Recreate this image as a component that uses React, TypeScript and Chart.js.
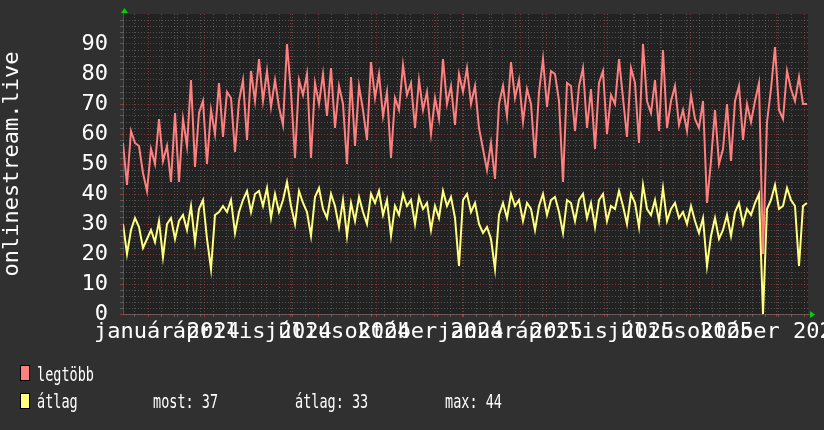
import React, { useEffect, useRef } from "react";
import { Chart, registerables } from "chart.js";

Chart.register(...registerables);

// ---- data (one sample every ~4.26 days, graph range starts 2023-12-05) ----
const LEGTOBB: number[] = [
  57, 43, 61, 57, 56, 47, 41, 55, 50, 65,
  51, 56, 44, 67, 44, 65, 56, 78, 49, 67,
  71, 50, 68, 60, 77, 59, 74, 72, 54, 71,
  78, 58, 81, 71, 85, 71, 81, 69, 78, 69,
  63, 90, 74, 52, 78, 73, 80, 52, 77, 70,
  80, 66, 82, 62, 76, 70, 50, 79, 56, 76,
  68, 58, 84, 72, 80, 66, 74, 52, 72, 68,
  83, 73, 77, 62, 78, 68, 74, 60, 72, 65,
  85, 70, 76, 63, 80, 74, 82, 70, 76, 62,
  55, 48, 57, 45, 70, 76, 66, 84, 72, 78,
  64, 75, 70, 52, 74, 85, 69, 81, 80, 71,
  44, 77, 76, 61, 76, 82, 62, 75, 55, 77,
  81, 60, 73, 70, 85, 72, 59, 82, 77, 57,
  90, 71, 67, 78, 61, 88, 62, 71, 76, 63,
  68, 61, 73, 65, 62, 71, 37, 51, 68, 50,
  55, 70, 51, 71, 76, 58, 70, 64, 71, 77,
  20, 64, 75, 89, 68, 65, 81, 75, 71, 79,
  70, 70,
];

const ATLAG: number[] = [
  30, 20, 28, 32, 29, 22, 25, 28, 24, 31,
  19, 30, 32, 25, 31, 33, 28, 36, 24, 35,
  38, 25, 15, 33, 34, 36, 34, 38, 27, 34,
  38, 41, 34, 40, 41, 36, 42, 32, 40, 34,
  38, 44, 36, 30, 41, 37, 34, 26, 39, 42,
  35, 32, 40, 36, 29, 38, 26, 37, 31, 39,
  34, 30, 40, 37, 41, 33, 38, 26, 36, 33,
  40, 36, 38, 30, 39, 35, 37, 28, 36, 32,
  41, 36, 39, 32, 16, 38, 40, 34, 37, 30,
  27, 29, 25, 15, 33, 37, 32, 40, 36, 38,
  31, 37, 35, 28, 36, 40, 33, 38, 39, 34,
  27, 38, 37, 31, 38, 40, 32, 37, 29, 38,
  40, 31, 36, 35, 41, 36, 30, 40, 37, 29,
  43, 35, 33, 38, 31, 42, 31, 35, 37, 32,
  34, 30, 36, 31, 27, 32, 16, 26, 32, 25,
  28, 33, 26, 34, 37, 30, 35, 33, 37, 40,
  0, 35, 38, 43, 35, 36, 42, 38, 36, 16,
  36, 37,
];

const SAMPLE_DAYS = (4 * 730) / 685;
const RANGE_START = Date.UTC(2023, 11, 5, 8);
const RANGE_DAYS = 730;
const MS_DAY = 86400000;
const LABEL_SHIFT_DAYS = 20;

const MONTHS_HU = [
  "január", "február", "március", "április", "május", "június",
  "július", "augusztus", "szeptember", "október", "november", "december",
];
const X_LABEL_MONTHS: [number, number][] = [
  [2024, 0], [2024, 3], [2024, 6], [2024, 9],
  [2025, 0], [2025, 3], [2025, 6], [2025, 9],
];

const Y_MIN = 0;
const Y_MAX = 100;
const Y_MINOR_STEP = 2;
const Y_LABELS = [0, 10, 20, 30, 40, 50, 60, 70, 80, 90];

const SERIES_NAMES = ["legtöbb", "átlag"];
const SERIES_COLORS = ["#ff8080", "#ffff80"];
const STAT_NAMES = ["most:", "átlag:", "max:"];
const STAT_VALUES = [37, 33, 44];
const Y_TITLE = "onlinestream.live";

// ---- styles ----
const OUTER_BG = "#303030";
const PLOT_BG = "#222222";
const GRID = "rgba(150,150,150,0.42)";
const MGRID = "rgba(255,70,70,0.45)";
const AXIS = "rgba(150,150,150,0.4)";
const ARROW = "#00d000";
const MONO = '"DejaVu Sans Mono", monospace';

const dayOf = (y: number, m: number, d: number) => (Date.UTC(y, m, d) - RANGE_START) / MS_DAY;

type XT = { value: number; kind: "major" | "minor" | "none"; label: string };

function buildXTicks(): XT[] {
  const list: XT[] = [];
  const find = (v: number) => list.find((t) => Math.abs(t.value - v) < 0.01);
  for (let y = 2023; y <= 2026; y++) {
    for (let m = 0; m < 12; m++) {
      const v = dayOf(y, m, 1);
      if (v >= 0 && v <= RANGE_DAYS) list.push({ value: v, kind: "major", label: "" });
    }
  }
  const base = dayOf(2024, 0, 1);
  for (let k = -10; k <= 60; k++) {
    const v = base + 14 * k;
    if (v < 0 || v > RANGE_DAYS) continue;
    if (!find(v)) list.push({ value: v, kind: "minor", label: "" });
  }
  for (const [y, m] of X_LABEL_MONTHS) {
    const v = dayOf(y, m, 1) + LABEL_SHIFT_DAYS;
    const label = `${MONTHS_HU[m]} ${y}`;
    const t = find(v);
    if (t) t.label = label;
    else list.push({ value: v, kind: "none", label });
  }
  return list.sort((a, b) => a.value - b.value);
}

const X_TICKS = buildXTicks();
const xInfo = (v: number) => X_TICKS.find((t) => Math.abs(t.value - v) < 1e-6);
const xGridColor = (ctx: any) => {
  const t = ctx.tick ? xInfo(ctx.tick.value) : undefined;
  if (!t) return "transparent";
  return t.kind === "major" ? MGRID : t.kind === "minor" ? GRID : "transparent";
};
const yGridColor = (ctx: any) => {
  if (!ctx.tick) return "transparent";
  const v = ctx.tick.value;
  if (v >= Y_MAX) return "transparent";
  return v % 10 === 0 ? MGRID : GRID;
};

const toPoints = (arr: number[]) => arr.map((y, i) => ({ x: i * SAMPLE_DAYS, y }));

const decorPlugin = {
  id: "rrdDecor",
  beforeDraw(chart: any) {
    const { ctx, chartArea: a } = chart;
    ctx.save();
    ctx.fillStyle = OUTER_BG;
    ctx.fillRect(0, 0, chart.width, chart.height);
    ctx.fillStyle = PLOT_BG;
    ctx.fillRect(a.left, a.top, a.right - a.left, a.bottom - a.top);
    ctx.restore();
  },
  afterDraw(chart: any) {
    const { ctx, chartArea: a } = chart;
    const yb = chart.scales.y.getPixelForValue(0);
    const xl = chart.scales.x.getPixelForValue(0);
    ctx.save();
    // axes
    ctx.strokeStyle = AXIS;
    ctx.lineWidth = 1;
    ctx.beginPath();
    ctx.moveTo(xl, Math.round(yb) + 0.5);
    ctx.lineTo(a.right + 3, Math.round(yb) + 0.5);
    ctx.moveTo(Math.round(xl) + 0.5, yb);
    ctx.lineTo(Math.round(xl) + 0.5, a.top - 2);
    ctx.stroke();
    // arrows
    ctx.fillStyle = ARROW;
    ctx.beginPath();
    ctx.moveTo(a.right + 2, yb - 3);
    ctx.lineTo(a.right + 7, yb + 0.5);
    ctx.lineTo(a.right + 2, yb + 4);
    ctx.closePath();
    ctx.fill();
    ctx.beginPath();
    ctx.moveTo(xl - 2, a.top - 1);
    ctx.lineTo(xl + 1.5, a.top - 6);
    ctx.lineTo(xl + 5, a.top - 1);
    ctx.closePath();
    ctx.fill();

    // legend
    const condensed = (text: string, x: number, y: number) => {
      ctx.save();
      ctx.translate(x, y);
      ctx.scale(0.675, 1);
      ctx.fillText(text, 0, 0);
      ctx.restore();
    };
    ctx.font = `20px ${MONO}`;
    ctx.textBaseline = "alphabetic";
    ctx.textAlign = "left";
    const rowsY = [365, 393];
    const baseY = [380.5, 408];
    SERIES_NAMES.forEach((name, i) => {
      ctx.fillStyle = SERIES_COLORS[i];
      ctx.fillRect(20, rowsY[i], 10, 16);
      ctx.strokeStyle = "#000";
      ctx.lineWidth = 1;
      ctx.strokeRect(20.5, rowsY[i] + 0.5, 9, 15);
      ctx.fillStyle = "#ffffff";
      condensed(name, 37, baseY[i]);
    });
    const statX = [153, 295, 445];
    STAT_NAMES.forEach((n, i) => {
      condensed(`${n} ${STAT_VALUES[i]}`, statX[i], baseY[1]);
    });
    ctx.restore();
  },
};

export default function App() {
  const ref = useRef<HTMLCanvasElement | null>(null);

  useEffect(() => {
    document.body.style.margin = "0";
    document.body.style.background = OUTER_BG;
    const canvas = ref.current;
    if (!canvas) return;
    const chart = new Chart(canvas, {
      type: "line",
      data: {
        datasets: [
          {
            label: SERIES_NAMES[0],
            data: toPoints(LEGTOBB),
            borderColor: SERIES_COLORS[0],
            borderWidth: 2,
            pointRadius: 0,
            tension: 0,
            order: 2,
          },
          {
            label: SERIES_NAMES[1],
            data: toPoints(ATLAG),
            borderColor: SERIES_COLORS[1],
            borderWidth: 2,
            pointRadius: 0,
            tension: 0,
            order: 1,
          },
        ],
      },
      options: {
        responsive: false,
        devicePixelRatio: 1,
        animation: false,
        events: [],
        layout: { padding: { left: 0, top: 14, right: 16, bottom: 0 } },
        plugins: { legend: { display: false }, tooltip: { enabled: false } },
        scales: {
          x: {
            type: "linear",
            min: 0,
            max: RANGE_DAYS,
            afterBuildTicks: (s: any) => {
              s.ticks = X_TICKS.map((t) => ({ value: t.value }));
            },
            afterFit: (s: any) => {
              s.height = 116;
              s.paddingLeft = 0;
              s.paddingRight = 0;
            },
            grid: {
              color: xGridColor,
              tickColor: xGridColor,
              tickLength: 3,
              drawTicks: true,
              lineWidth: 1,
            },
            border: { display: false, dash: [1, 2] },
            ticks: {
              autoSkip: false,
              maxRotation: 0,
              minRotation: 0,
              padding: 2,
              color: "#ffffff",
              font: { family: MONO, size: 22 },
              callback: (v: any) => xInfo(Number(v))?.label ?? "",
            },
          },
          y: {
            type: "linear",
            min: Y_MIN,
            max: Y_MAX,
            afterBuildTicks: (s: any) => {
              const t = [];
              for (let v = Y_MIN; v <= Y_MAX; v += Y_MINOR_STEP) t.push({ value: v });
              s.ticks = t;
            },
            afterFit: (s: any) => {
              s.width = 123;
              s.paddingTop = 0;
              s.paddingBottom = 0;
            },
            grid: {
              color: yGridColor,
              tickColor: yGridColor,
              tickLength: 3,
              drawTicks: true,
              lineWidth: 1,
            },
            border: { display: false, dash: [1, 2] },
            ticks: {
              autoSkip: false,
              padding: 12,
              color: "#ffffff",
              font: { family: MONO, size: 22 },
              callback: (v: any) => (Y_LABELS.includes(Number(v)) ? String(v) : ""),
            },
            title: {
              display: true,
              text: Y_TITLE,
              color: "#ffffff",
              font: { family: MONO, size: 22, lineHeight: 1.1 },
              padding: { top: 0, bottom: 0 },
            },
          },
        },
      },
      plugins: [decorPlugin],
    } as any);
    return () => chart.destroy();
  }, []);

  return (
    <div style={{ position: "fixed", left: 0, top: 0, width: 824, height: 430, background: OUTER_BG }}>
      <canvas ref={ref} width={824} height={430} style={{ display: "block", width: 824, height: 430 }} />
    </div>
  );
}
